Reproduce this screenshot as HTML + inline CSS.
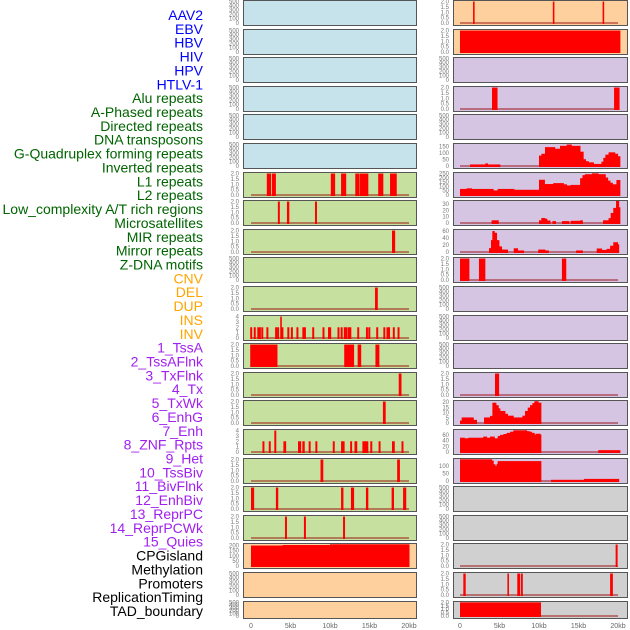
<!DOCTYPE html>
<html><head><meta charset="utf-8"><style>
html,body{margin:0;padding:0;background:#fff;}
svg{display:block;font-family:"Liberation Sans",sans-serif;}
</style></head><body>
<svg id="chart" width="630" height="630" viewBox="0 0 630 630" xmlns="http://www.w3.org/2000/svg"></svg>
<script>
const featureLabels=["AAV2","EBV","HBV","HIV","HPV","HTLV-1","Alu repeats","A-Phased repeats","Directed repeats","DNA transposons","G-Quadruplex forming repeats","Inverted repeats","L1 repeats","L2 repeats","Low_complexity A/T rich regions","Microsatellites","MIR repeats","Mirror repeats","Z-DNA motifs","CNV","DEL","DUP","INS","INV","1_TssA","2_TssAFlnk","3_TxFlnk","4_Tx","5_TxWk","6_EnhG","7_Enh","8_ZNF_Rpts","9_Het","10_TssBiv","11_BivFlnk","12_EnhBiv","13_ReprPC","14_ReprPCWk","15_Quies","CPGisland","Methylation","Promoters","ReplicationTiming","TAD_boundary"];
const labelColors=["#0000ff","#0000ff","#0000ff","#0000ff","#0000ff","#0000ff","#006400","#006400","#006400","#006400","#006400","#006400","#006400","#006400","#006400","#006400","#006400","#006400","#006400","#ffa500","#ffa500","#ffa500","#ffa500","#ffa500","#a020f0","#a020f0","#a020f0","#a020f0","#a020f0","#a020f0","#a020f0","#a020f0","#a020f0","#a020f0","#a020f0","#a020f0","#a020f0","#a020f0","#a020f0","#000000","#000000","#000000","#000000","#000000"];
const xTicks=[0,5,10,15,20];
const xTickLabels=["0","5kb","10kb","15kb","20kb"];
const T500=[0,100,200,300,400,500];
const T2=[0,0.5,1,1.5,2];
const T4=[0,1,2,3,4];
const T200=[0,50,100,150,200];
const T150=[0,50,100,150];
const T250=[0,50,100,150,200,250];
const T30=[0,10,20,30];
const T60=[0,20,40,60];
const T20=[0,5,10,15,20];
const T100=[0,50,100];
const leftTicks=[T500,T500,T500,T500,T500,T500,T2,T2,T2,T500,T2,T4,T2,T2,T2,T4,T2,T2,T2,T200,T500,T500];
const rightTicks=[T2,T2,T500,T2,T500,T150,T250,T30,T60,T2,T500,T500,T500,T2,T20,T60,T100,T500,T500,T2,T2,T2];
const leftMax=[510,510,510,510,510,510,2.05,2.05,2.05,510,2.05,4.1,2.05,2.05,2.05,4.1,2.05,2.05,2.05,215,510,510];
const rightMax=[2.05,2.05,510,2.05,510,169,257,35,63,2.05,510,510,510,2.05,21,77,147,510,510,2.05,2.05,2.05];
const leftBg=["#c6e3ec","#c6e3ec","#c6e3ec","#c6e3ec","#c6e3ec","#c6e3ec","#c6e0a0","#c6e0a0","#c6e0a0","#c6e0a0","#c6e0a0","#c6e0a0","#c6e0a0","#c6e0a0","#c6e0a0","#c6e0a0","#c6e0a0","#c6e0a0","#c6e0a0","#fdd09e","#fdd09e","#fdd09e"];
const rightBg=["#fdd09e","#fdd09e","#d5c5e3","#d5c5e3","#d5c5e3","#d5c5e3","#d5c5e3","#d5c5e3","#d5c5e3","#d5c5e3","#d5c5e3","#d5c5e3","#d5c5e3","#d5c5e3","#d5c5e3","#d5c5e3","#d5c5e3","#d0d0d0","#d0d0d0","#d0d0d0","#d0d0d0","#d0d0d0"];
// [startKb, endKb, value]
const leftBars=[[],[],[],[],[],[],
[[2.0,2.5,2],[2.66,3.1,2],[10.1,10.6,2],[11.4,12.0,2],[13.2,13.7,2],[13.8,14.8,2],[16.1,16.7,2],[17.6,18.4,2]],
[[3.4,3.6,2],[4.55,4.8,2],[8.1,8.3,2]],
[[17.85,18.2,2]],
[],
[[15.7,16.0,2]],
[[-0.1,0.1,2],[0.35,0.55,2],[0.8,1.0,2],[1.0,1.2,2],[1.3,1.5,2],[1.95,2.15,2],[3.05,3.25,2],[3.3,3.5,2],[3.7,3.85,4],[3.85,4.05,2],[4.6,4.8,2],[5.05,5.25,2],[5.75,5.95,2],[6.5,6.7,2],[6.7,6.9,2],[7.75,7.95,2],[9.05,9.25,2],[9.75,9.95,2],[9.9,10.1,2],[10.95,11.15,2],[11.35,11.55,2],[11.75,11.95,2],[11.95,12.15,2],[12.25,12.45,2],[12.45,12.65,2],[13.45,13.65,2],[14.55,14.75,2],[14.85,15.05,2],[15.85,16.05,2],[16.75,16.95,2],[17.15,17.35,2],[17.35,17.55,2],[17.95,18.15,2],[18.55,18.75,2]],
[[-0.1,3.3,2],[11.8,13.0,2],[13.5,13.9,2],[15.75,16.2,2]],
[[18.7,19.0,2]],
[[16.7,17.0,2]],
[[1.45,1.65,2],[2.25,2.45,2],[2.95,3.15,4],[4.1,4.4,2],[5.95,6.3,2],[6.5,6.75,2],[7.3,7.5,2],[8.15,8.35,2],[10.35,10.55,2],[11.4,11.8,2],[12.55,12.75,2],[13.1,13.4,2],[14.1,14.8,2],[15.1,15.3,2],[16.15,16.35,2],[17.85,18.15,2],[19.05,19.25,2]],
[[8.8,9.1,2],[18.5,18.8,2]],
[[0,0.35,2],[3.15,3.4,2],[11.4,11.65,2],[12.65,13.0,2],[14.55,14.8,2],[17.8,18.05,2],[19.25,19.6,2]],
[[4.3,4.5,2],[6.7,6.9,2],[11.65,11.85,2]],
[[0,20,200],[4.0,10.0,205],[10.0,20,212]],
[],[]];
const rightBars=[
[[1.65,1.8,2],[11.75,11.9,2],[18.05,18.2,2]],
[[0,20.25,2]],
[],
[[4.05,4.7,2],[19.5,20.15,2]],
[],
[[1.27,3.2,12],[3.2,3.5,20],[3.5,5.06,12],[10.0,10.3,80],[10.3,10.76,94],[10.76,12.0,145],[12.0,12.66,133],[12.66,13.5,155],[13.5,14.1,165],[14.1,15.2,155],[15.2,15.6,110],[15.6,15.9,52],[15.9,16.25,37],[16.25,16.9,28],[16.9,17.9,16],[17.9,18.14,33],[18.14,18.4,63],[18.4,18.8,87],[18.8,19.6,105],[19.6,19.96,94],[19.96,20.25,75]],
[[0,0.84,71],[0.84,1.48,78],[1.48,4.2,71],[4.2,4.77,54],[4.77,6.84,71],[6.84,10.0,61],[10.0,10.7,178],[10.7,11.8,128],[11.8,13.1,139],[13.1,13.5,125],[13.5,14.0,111],[14.0,15.2,118],[15.2,15.5,196],[15.5,15.8,232],[15.8,16.7,243],[16.7,17.5,253],[17.5,18.4,243],[18.4,18.7,204],[18.7,19.0,168],[19.0,19.3,143],[19.3,19.8,125],[19.8,20.25,175]],
[[4.0,4.85,4.3],[10.0,10.3,4.3],[10.3,10.7,8],[10.7,11.0,7],[11.0,11.4,4],[11.7,12.1,3],[12.9,13.8,3],[14.0,15.2,3.5],[15.2,15.5,4.3],[18.1,18.8,4.3],[18.8,19.07,7.7],[19.07,19.4,16],[19.4,19.75,24],[19.75,20.1,35],[20.1,20.25,25]],
[[3.67,3.92,11],[3.92,4.09,34],[4.09,4.35,60],[4.35,4.64,55],[4.64,4.94,34],[4.94,5.27,16],[5.27,6.03,7],[6.8,7.3,10.6],[7.3,8.06,4.4],[9.9,10.76,7],[10.76,11.2,4.4],[14.7,15.5,4.4],[17.3,17.93,10],[17.93,18.56,6],[18.56,19.0,9],[19.0,19.4,18],[19.4,19.96,28],[19.96,20.1,22]],
[[0,1.14,2],[2.4,3.16,2],[12.9,13.4,2]],
[],[],[],
[[4.43,4.9,2]],
[[0,0.21,2.4],[0.21,1.69,5.3],[1.69,2.1,3],[3.04,3.8,5.3],[3.8,4.1,6.8],[4.1,4.56,19.4],[4.56,4.85,17],[4.85,5.06,14],[5.06,5.7,11.5],[5.7,6.03,8.8],[6.03,6.75,7],[6.75,7.9,5.3],[7.9,8.23,7],[8.23,8.57,11.5],[8.57,8.86,14.7],[8.86,9.16,17],[9.16,9.41,19],[9.41,9.9,20.8],[9.9,10.25,19.4]],
[[0,0.55,50],[0.55,1.05,48],[1.05,2.95,50],[2.95,3.38,54],[3.38,3.8,50],[3.8,4.35,54],[4.35,4.77,48],[4.77,5.06,56],[5.06,5.49,60],[5.49,5.9,63],[5.9,6.33,67],[6.33,6.75,71],[6.75,8.44,76],[8.44,8.78,73],[8.78,9.07,71],[9.07,9.41,67],[9.41,9.58,61],[9.58,10.13,64],[10.13,10.25,61],[17.5,20.25,6.5]],
[[0,4.0,145],[4.0,4.22,137],[4.22,4.43,112],[4.43,4.64,102],[4.64,4.77,115],[4.77,10.25,133],[11.52,15.7,8],[15.7,20.1,14]],
[],[],
[[19.7,19.9,2]],
[[0.42,0.67,2],[6.0,6.15,2],[7.25,7.55,2],[7.7,7.9,2],[19.0,19.3,2]],
[[0,10.2,2]]];

const NS="http://www.w3.org/2000/svg";
const svg=document.getElementById('chart');
function mk(tag,attrs){const e=document.createElementNS(NS,tag);for(const k in attrs)e.setAttribute(k,attrs[k]);return e;}
function rowTop(r){return Math.round(r*28.6);}
function rowH(r){return r===21?17:25;}
const cols=[{x0:243,x1:416,zero:251,tickX:239,ticks:leftTicks,max:leftMax,bg:leftBg,bars:leftBars,name:'left'},
            {x0:453,x1:627,zero:460,tickX:449,ticks:rightTicks,max:rightMax,bg:rightBg,bars:rightBars,name:'right'}];
const pxPerKb=7.9;
function fmt(t,ticks){return ticks===T2?t.toFixed(1):String(t);}

featureLabels.forEach((lab,i)=>{
  const t=mk('text',{x:203,y:(20+i*13.86).toFixed(1),'text-anchor':'end','font-size':'14',fill:labelColors[i]});
  
  
  t.textContent=lab;svg.appendChild(t);
});

cols.forEach(c=>{
  const xs=kb=>c.zero+kb*pxPerKb;
  for(let r=0;r<22;r++){
    const top=rowTop(r),h=rowH(r);
    const g=mk('g',{});
    
    
    const bg=mk('rect',{x:c.x0+0.5,y:top+0.5,width:c.x1-c.x0,height:h,fill:c.bg[r],stroke:'none'});
    
    
    g.appendChild(bg);
    const y0=top+h-2,y1=top+1,ymax=c.max[r];
    const ys=v=>y0-v/ymax*(y0-y1);
    const bars=c.bars[r];
    if(bars.length){
      const bl=mk('line',{x1:xs(0),x2:xs(20),y1:y0,y2:y0,stroke:'rgba(150,0,0,0.45)','stroke-width':2});
      
      
      g.appendChild(bl);
    }
    bars.forEach(b=>{
      const xa=Math.max(c.x0+1,xs(b[0])),xb=Math.min(c.x1,xs(b[1]));
      const yt=Math.max(y1-1,ys(b[2]));
      const rc=mk('rect',{x:xa.toFixed(2),y:yt.toFixed(2),width:Math.max(1,xb-xa+0.4).toFixed(2),height:(y0+1-yt).toFixed(2),fill:'#ff0000'});
      
      
      g.appendChild(rc);
    });
    const br=mk('rect',{x:c.x0+0.5,y:top+0.5,width:c.x1-c.x0,height:h,fill:'none',stroke:'#555','stroke-width':1});
    
    
    g.appendChild(br);
    c.ticks[r].forEach(t=>{
      const tt=mk('text',{x:c.tickX,y:(ys(t)+2).toFixed(1),'text-anchor':'end','font-size':'6',fill:'#777'});
      
      
      tt.textContent=fmt(t,c.ticks[r]);g.appendChild(tt);
    });
    svg.appendChild(g);
  }
  xTicks.forEach((k,i)=>{
    const t=mk('text',{x:xs(k),y:628,'text-anchor':'middle','font-size':'7',fill:'#666'});
    
    
    t.textContent=xTickLabels[i];svg.appendChild(t);
  });
});
</script>
</body></html>
